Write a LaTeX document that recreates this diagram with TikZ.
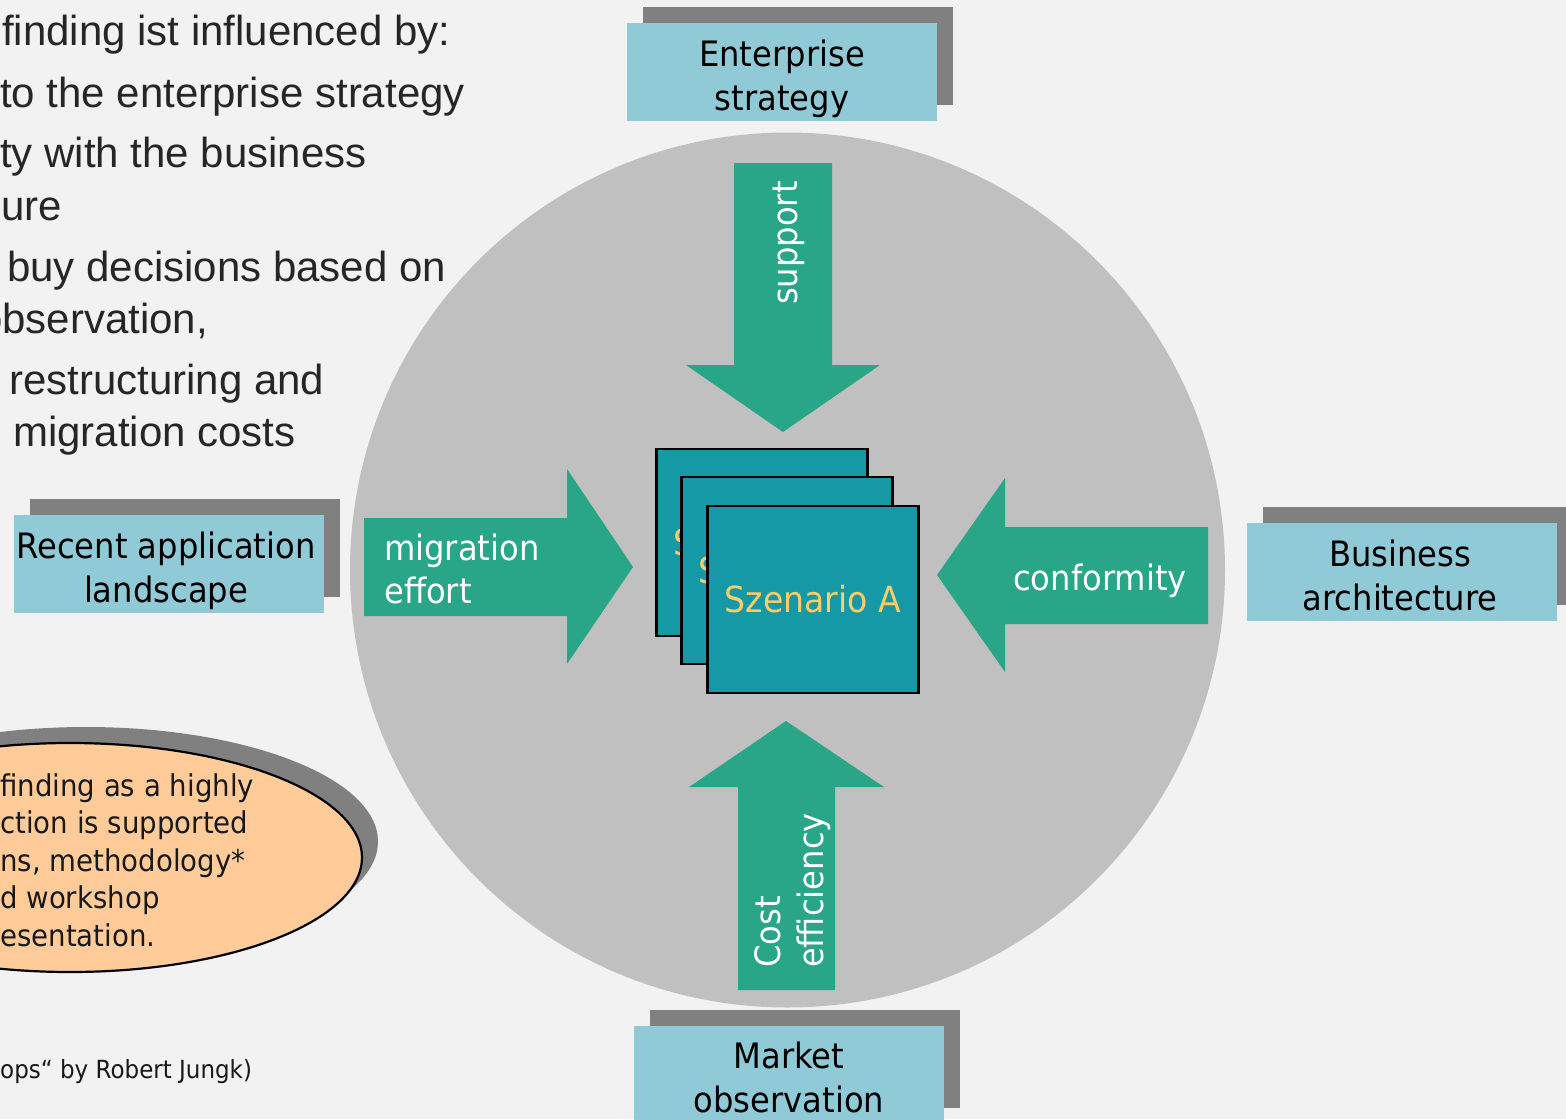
\documentclass[tikz,border=0pt]{standalone}
\usepackage{fontspec}
\setmainfont{Liberation Sans}
\newfontfamily\tahoma[FakeStretch=0.92]{DejaVu Sans}
\usetikzlibrary{shapes.geometric}
\definecolor{bg}{HTML}{F2F2F2}
\definecolor{disc}{HTML}{C0C0C0}
\definecolor{boxblue}{HTML}{8FCAD6}
\definecolor{shadowgray}{HTML}{808080}
\definecolor{arrowgreen}{HTML}{28A687}
\definecolor{scenteal}{HTML}{1699A6}
\definecolor{scenyellow}{HTML}{FFCC66}
\definecolor{ellorange}{HTML}{FFCC99}
\definecolor{textgray}{HTML}{262626}
\begin{document}
\begin{tikzpicture}[x=1pt,y=-1pt,
  infobox/.style={rectangle, fill=boxblue, minimum width=310pt, minimum height=98pt, inner sep=0pt, outer sep=0pt},
  shadowbox/.style={rectangle, fill=shadowgray, minimum width=310pt, minimum height=98pt, inner sep=0pt, outer sep=0pt},
  boxtext/.style={font=\tahoma\fontsize{35}{44}\selectfont, align=center, anchor=base, inner sep=0pt, text=black},
  arrowtext/.style={font=\tahoma\fontsize{35}{43}\selectfont, align=left, anchor=base west, inner sep=0pt, text=white},
  arrowshape/.style={fill=arrowgreen},
  scenbox/.style={rectangle, draw=black, line width=2.5pt, fill=scenteal, minimum width=211pt, minimum height=187pt, inner sep=0pt, text=scenyellow, font=\tahoma\fontsize{36}{40}\selectfont},
  toptext/.style={font=\fontsize{42}{50}\selectfont, anchor=base west, inner sep=0pt, text=textgray},
  elltext/.style={font=\tahoma\fontsize{30}{37.5}\selectfont, anchor=base west, align=left, inner sep=0pt, text=black!90},
]
\useasboundingbox (0,0) rectangle (1566,1119);
\clip (0,0) rectangle (1566,1119);
\fill[bg] (0,0) rectangle (1566,1119);

% big disc
\node[circle, fill=disc, minimum size=875pt, inner sep=0pt] (disc) at (787.5,570) {};

% top-left text
\node[toptext] (t1) at (2,45) {finding ist influenced by:};
\node[toptext] (t2) at (0,107) {to the enterprise strategy};
\node[toptext] (t3) at (0,167) {ty with the business};
\node[toptext] (t4) at (1,220) {ure};
\node[toptext] (t5) at (7,281) {buy decisions based on};
\node[toptext] (t6) at (-21,333) {observation,};
\node[toptext] (t7) at (9,394) {restructuring and};
\node[toptext] (t8) at (13,446) {migration costs};

% boxes with shadows (text anchors at the baseline of the last line)
\node[shadowbox] (es) at (798,56) {};
\node[infobox] (ent) at (782,72) {};
\node[boxtext] (entt) at (782,110) {Enterprise\\strategy};

\node[shadowbox] (rs) at (185,548) {};
\node[infobox] (rec) at (169,564) {};
\node[boxtext] (rect) at (166,602) {Recent application\\landscape};

\node[shadowbox] (bs) at (1418,556) {};
\node[infobox] (bus) at (1402,572) {};
\node[boxtext] (bust) at (1400,610) {Business\\architecture};

\node[shadowbox] (ms) at (805,1059) {};
\node[infobox] (mar) at (789,1075) {};
\node[boxtext] (mart) at (789,1112) {Market\\observation};

% block arrows
\fill[arrowshape] (734,163) -- (832,163) -- (832,365) -- (880,365) -- (783,432) -- (686,365) -- (734,365) -- cycle;
\fill[arrowshape] (364,518) -- (567,518) -- (567,469) -- (633,567) -- (567,664) -- (567,616) -- (364,616) -- cycle;
\fill[arrowshape] (1208,527) -- (1005,527) -- (1005,478) -- (937,575) -- (1005,672) -- (1005,624) -- (1208,624) -- cycle;
\fill[arrowshape] (738,990) -- (835,990) -- (835,787) -- (884,787) -- (786,721) -- (689,787) -- (738,787) -- cycle;

\node[arrowtext, rotate=90] (sup) at (797,305) {support};
\node[arrowtext] (mig) at (384,603) {migration\\effort};
\node[arrowtext] (con) at (1013,590) {conformity};
\node[arrowtext, rotate=90] (cost) at (823,968) {Cost\\efficiency};

% scenario stack
\node[scenbox] (s1) at (762,542.5) {Szenario C};
\node[scenbox] (s2) at (787,570.5) {Szenario B};
\node[scenbox] (s3) at (813,599.5) {Szenario A};

% ellipse with shadow
\node[ellipse, fill=shadowgray, minimum width=584pt, minimum height=229pt, inner sep=0pt] (ells) at (86,841.5) {};
\node[ellipse, fill=ellorange, draw=black, line width=2.2pt, minimum width=584pt, minimum height=229pt, inner sep=0pt] (ell) at (70,857.5) {};
\node[elltext] (ellt) at (0,946) {finding as a highly\\ction is supported\\ns, methodology*\\d workshop\\esentation.};

% footnote
\node[elltext, font=\tahoma\fontsize{25}{30}\selectfont] (foot) at (0,1078) {ops“ by Robert Jungk)};
\end{tikzpicture}
\end{document}
